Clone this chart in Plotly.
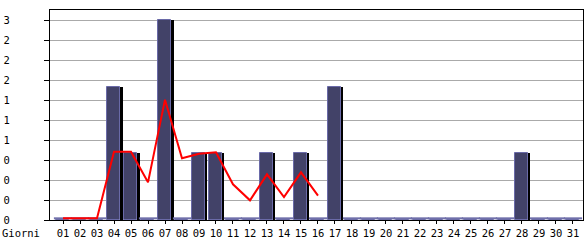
import plotly.graph_objects as go

days = [f"{d:02d}" for d in range(1, 32)]
visits = [0, 0, 0, 2, 1, 0, 3, 0, 1, 1, 0, 0, 1, 0, 1, 0, 2,
          0, 0, 0, 0, 0, 0, 0, 0, 0, 0, 1, 0, 0, 0]
trend_days = days[:16]
trend = [0, 0, 0, 1.0, 1.0, 0.54, 1.78, 0.9, 0.97, 0.99, 0.51, 0.27, 0.66, 0.32, 0.69, 0.34]
y_ticks = [0, 0.3, 0.6, 0.9, 1.2, 1.5, 1.8, 2.1, 2.4, 2.7, 3.0]
y_labels = ["0", "0", "0", "0", "1", "1", "1", "2", "2", "2", "3"]
x_title = "Giorni"

px = 1 / 17.0
font = dict(family="DejaVu Sans Mono", size=10.5, color="#000000")

fig = go.Figure()
# main bar
fig.add_trace(go.Bar(x=days, y=visits, width=13 * px, offset=-7 * px,
                     marker=dict(color="#424268", line=dict(color="#6a6aa8", width=1)),
                     showlegend=False))
# shadow
fig.add_trace(go.Bar(x=days, y=visits, width=2.5 * px, offset=6 * px,
                     marker=dict(color="#000000", line=dict(width=0)),
                     hoverinfo="skip", showlegend=False))
# zero markers
zero_days = [d for d, v in zip(days, visits) if v == 0]
fig.add_trace(go.Scatter(x=zero_days, y=[0] * len(zero_days), mode="markers",
                         marker=dict(symbol="line-ew", size=13,
                                     line=dict(color="#7070aa", width=2)),
                         yaxis="y2", hoverinfo="skip", showlegend=False))
fig.add_trace(go.Scatter(x=trend_days, y=trend, mode="lines",
                         line=dict(color="#ff0000", width=2),
                         yaxis="y2", showlegend=False))

fig.update_layout(
    width=585, height=240,
    margin=dict(l=50, r=2, t=10, b=20),
    paper_bgcolor="white", plot_bgcolor="white",
    barmode="overlay", bargap=0,
    font=font,
    xaxis=dict(type="category", categoryorder="array", categoryarray=days,
               range=[-0.765, 30.59], showgrid=False,
               showline=True, linecolor="#000000", linewidth=1, mirror=True,
               ticks="outside", ticklen=3, tickcolor="#000000",
               tickfont=font, fixedrange=True),
    yaxis=dict(range=[0, 3.15], tickvals=y_ticks, ticktext=y_labels,
               showgrid=True, gridcolor="#aaaaaa", gridwidth=1,
               showline=True, linecolor="#000000", linewidth=1, mirror=True,
               ticks="outside", ticklen=5, tickcolor="#000000",
               ticklabelstandoff=32, zeroline=False,
               tickfont=font, fixedrange=True),
    yaxis2=dict(range=[-0.025, 3.125], overlaying="y", visible=False,
                showgrid=False, zeroline=False, fixedrange=True),
    annotations=[dict(text=x_title, xref="paper", yref="paper",
                      x=-50 / 533, y=0, xanchor="left", yanchor="top",
                      yshift=-5, showarrow=False, font=font)],
)

fig.write_html("out.html")
